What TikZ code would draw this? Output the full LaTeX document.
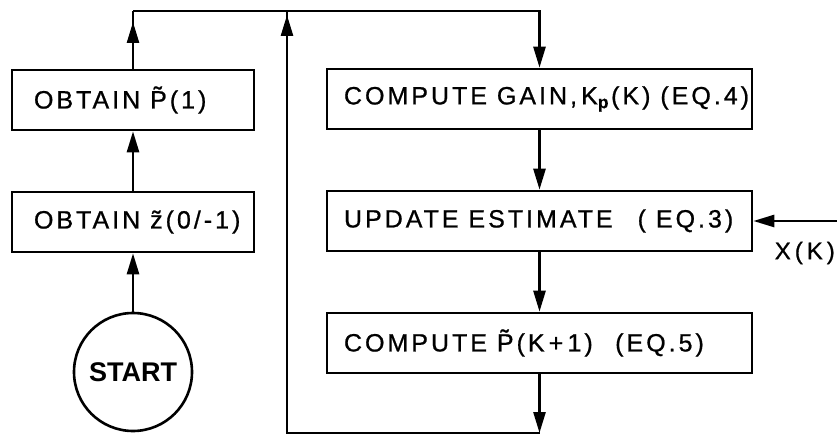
\documentclass[tikz,border=0pt]{standalone}
\usepackage{fontspec}
\setmainfont{Liberation Sans}
\newfontfamily\lettering{Liberation Sans}[LetterSpace=12,FakeBold=0.8]
\usetikzlibrary{arrows.meta,decorations.markings}
\begin{document}
\begin{tikzpicture}[x=1pt,y=-1pt,
  flow/.style={line width=2.6pt},
  tip/.style={-{Triangle[length=21pt,width=12pt]}},
  midtip/.style={postaction={decorate},decoration={markings,mark=at position #1 with {\arrow{Triangle[length=21pt,width=12pt]}}}},
  lbox/.style={draw,line width=2.6pt,rectangle,minimum width=242pt,minimum height=60pt,inner xsep=22pt,font=\lettering\fontsize{25}{28}\selectfont},
  rbox/.style={draw,line width=2.6pt,rectangle,minimum width=425pt,minimum height=60pt,inner xsep=17pt,font=\lettering\fontsize{25}{28}\selectfont},
  circ/.style={draw,line width=2.6pt,circle,minimum size=118pt,inner sep=0pt,font=\bfseries\fontsize{27}{30}\selectfont},
  lab/.style={font=\lettering\fontsize{24}{27}\selectfont,inner sep=0pt}]
\useasboundingbox (0,0) rectangle (837,435);
\node[lbox] (op) at (133,100) {\makebox[198pt][l]{OBTAIN \~{P}(1)}};
\node[lbox] (oz) at (133,222) {\makebox[198pt][l]{OBTAIN \~{z}(0/-1)}};
\node[circ] (st) at (133,372) {START};
\node[rbox] (gain) at (539.5,99) {\makebox[391pt][l]{COMPUTE GAIN,\,K\textsubscript{\textbf{p}}(K) (EQ.4)}};
\node[rbox] (upd) at (539.5,221) {\makebox[391pt][l]{UPDATE ESTIMATE\quad( EQ.3)}};
\node[rbox] (cp) at (539.5,343) {\makebox[391pt][l]{COMPUTE \~{P}(K\,+\,1)\enspace\ (EQ.5)}};
\coordinate (tl) at (133,11);
\coordinate (tf) at (287,11);
\coordinate (bl) at (287,433);
\coordinate (br) at (539.5,433);
\coordinate (xin) at (837,221);
\node[lab,anchor=east] (xk) at (835,253) {X\,(\,K\,)};
\draw[flow,tip] (st) -- (oz);
\draw[flow,tip] (oz) -- (op);
\draw[flow,midtip=-11pt] (op) -- (tl);
\draw[flow,tip] (tl) -| (gain);
\draw[flow,tip] (gain) -- (upd);
\draw[flow,tip] (upd) -- (cp);
\draw[flow,tip] (cp) -- (br);
\draw[flow,midtip=-4pt] (br) -- (bl) -- (tf);
\draw[flow,tip] (xin) -- (upd.east);
\end{tikzpicture}
\end{document}
